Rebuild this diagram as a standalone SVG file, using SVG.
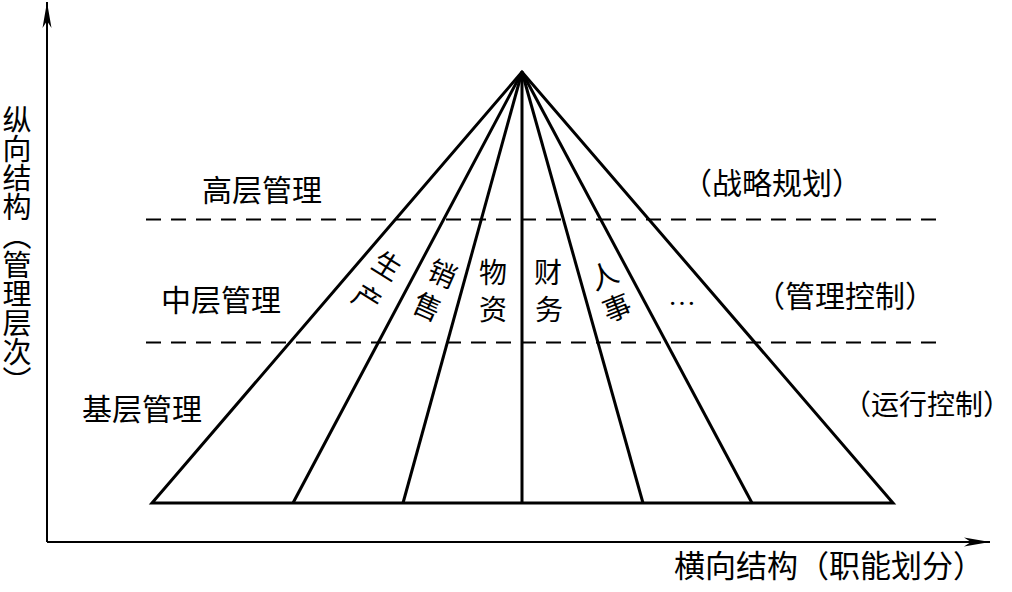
<svg xmlns="http://www.w3.org/2000/svg" width="1012" height="592" viewBox="0 0 1012 592">
<style>
.t{font-family:"Liberation Serif","Noto Sans CJK SC",serif;fill:#000;}
.lv{font-size:30px;}
.fn{font-size:28px;}
.tri{stroke:#000;stroke-width:3;fill:none;stroke-linejoin:miter;stroke-linecap:butt;}
.axis{stroke:#000;stroke-width:2;fill:none;}
.dash{stroke:#000;stroke-width:2.2;fill:none;stroke-dasharray:15 10;}
</style>
<defs>
<marker id="arr" markerUnits="userSpaceOnUse" markerWidth="30" markerHeight="12" viewBox="-27 -6 30 12" refX="0" refY="0" orient="auto">
<path d="M0,0 L-26,-4.5 L-19,0 L-26,4.5 Z" fill="#000"/>
</marker>
</defs>
<rect width="1012" height="592" fill="#fff"/>
<g id="connectors">
<line class="axis" x1="47" y1="542" x2="47" y2="2" marker-end="url(#arr)"/>
<line class="axis" x1="47" y1="542" x2="990" y2="542" marker-end="url(#arr)"/>
<line class="dash" x1="146" y1="219.5" x2="936" y2="219.5"/>
<line class="dash" x1="146" y1="342.5" x2="936" y2="342.5"/>
<path class="tri" d="M522,72 L152,503 L893,503 Z"/>
<line class="tri" x1="522" y1="72" x2="293" y2="503"/>
<line class="tri" x1="522" y1="72" x2="403" y2="503"/>
<line class="tri" x1="522" y1="72" x2="522" y2="503"/>
<line class="tri" x1="522" y1="72" x2="643" y2="503"/>
<line class="tri" x1="522" y1="72" x2="752" y2="503"/>
</g>
<g id="level-top"><text class="t lv" x="262" y="201" text-anchor="middle">高层管理</text></g>
<g id="level-mid"><text class="t lv" x="221" y="311" text-anchor="middle">中层管理</text></g>
<g id="level-base"><text class="t lv" x="142" y="420" text-anchor="middle">基层管理</text></g>
<g id="note-top"><text class="t lv" x="772" y="194" text-anchor="middle">（战略规划）</text></g>
<g id="note-mid"><text class="t lv" x="845" y="307" text-anchor="middle">（管理控制）</text></g>
<g id="note-base"><text class="t" font-size="28" x="1011" y="415" text-anchor="end">（运行控制）</text></g>
<g id="fn-production">
<text class="t fn" text-anchor="middle" transform="translate(387,266) rotate(32)" y="10">生</text>
<text class="t fn" text-anchor="middle" transform="translate(367,299) rotate(32)" y="10">产</text>
</g>
<g id="fn-sales">
<text class="t fn" text-anchor="middle" transform="translate(442,274) rotate(24)" y="10">销</text>
<text class="t fn" text-anchor="middle" transform="translate(427,307) rotate(24)" y="10">售</text>
</g>
<g id="fn-materials">
<text class="t fn" text-anchor="middle" x="493" y="283">物</text>
<text class="t fn" text-anchor="middle" x="493" y="320">资</text>
</g>
<g id="fn-finance">
<text class="t fn" text-anchor="middle" x="548" y="283">财</text>
<text class="t fn" text-anchor="middle" x="549" y="320">务</text>
</g>
<g id="fn-personnel">
<text class="t fn" text-anchor="middle" transform="translate(604,276) rotate(-22)" y="10">人</text>
<text class="t fn" text-anchor="middle" transform="translate(617,308) rotate(-22)" y="10">事</text>
</g>
<g id="fn-more"><text class="t fn" text-anchor="middle" x="682" y="305">…</text></g>
<g id="axis-y-label"><text class="t" font-size="29" writing-mode="vertical-rl" x="14" y="105">纵向结构（管理层次）</text></g>
<g id="axis-x-label"><text class="t" font-size="31" x="829" y="577" text-anchor="middle">横向结构（职能划分）</text></g>
</svg>
